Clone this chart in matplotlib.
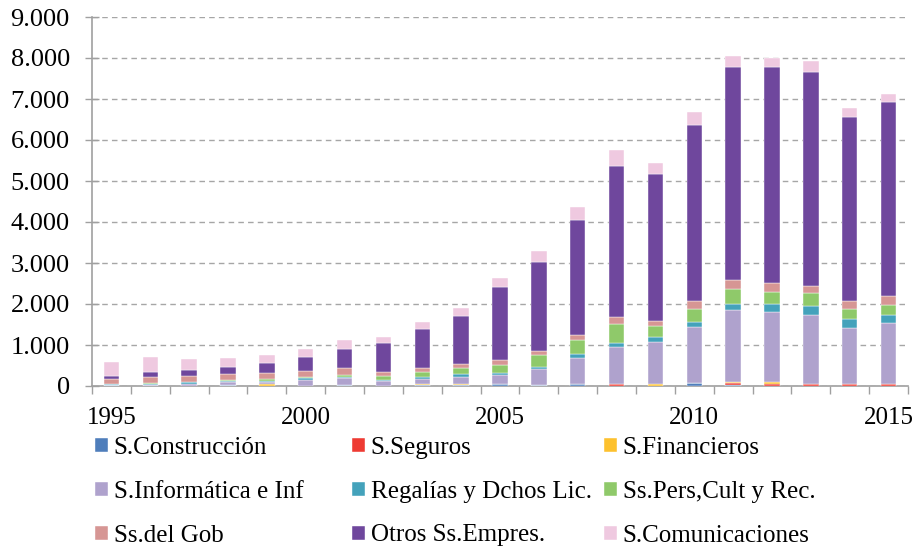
import numpy as np
import matplotlib
matplotlib.use('Agg')
from matplotlib import pyplot as plt
from matplotlib.ticker import FuncFormatter, MultipleLocator

plt.rcParams['font.family'] = ['Liberation Serif', 'DejaVu Serif']

years = list(range(1995, 2016))

construccion = [15, 10, 10, 15, 10, 10, 15, 10, 20, 20, 40, 20, 40, 10, 10, 65, 25, 10, 10, 10, 10]
seguros = [0, 0, 0, 0, 0, 0, 0, 0, 0, 0, 0, 0, 0, 40, 0, 5, 40, 50, 45, 40, 40]
financieros = [0, 0, 0, 0, 30, 0, 0, 0, 20, 30, 0, 0, 0, 0, 40, 0, 40, 35, 0, 0, 0]
informatica = [20, 20, 40, 80, 66, 140, 173, 115, 122, 180, 220, 392, 645, 890, 1012, 1362, 1754, 1713, 1688, 1354, 1476]
regalias = [20, 10, 40, 30, 15, 33, 41, 25, 57, 65, 65, 57, 98, 98, 130, 122, 147, 188, 220, 220, 196]
personales = [5, 25, 10, 10, 40, 25, 41, 100, 130, 147, 180, 278, 335, 482, 261, 326, 367, 302, 294, 245, 261]
gobierno = [115, 150, 140, 157, 165, 157, 165, 90, 98, 90, 122, 114, 114, 155, 130, 188, 212, 204, 179, 204, 212]
otros = [66, 124, 157, 182, 240, 340, 463, 702, 939, 1175, 1796, 2155, 2824, 3703, 3588, 4307, 5188, 5285, 5220, 4486, 4731]
comunicaciones = [340, 372, 273, 215, 190, 190, 215, 165, 163, 196, 212, 286, 310, 384, 269, 302, 269, 204, 269, 220, 188]

series = [
    ('S.Construcción', construccion, '#4F7EBB'),
    ('S.Seguros', seguros, '#EE3B33'),
    ('S.Financieros', financieros, '#FDC12E'),
    ('S.Informática e Inf', informatica, '#AFA2CD'),
    ('Regalías y Dchos Lic.', regalias, '#44A2BB'),
    ('Ss.Pers,Cult y Rec.', personales, '#8FC96A'),
    ('Ss.del Gob', gobierno, '#D69694'),
    ('Otros Ss.Empres.', otros, '#6F479D'),
    ('S.Comunicaciones', comunicaciones, '#EFC9E0'),
]

W, H = 915, 549
fig = plt.figure(figsize=(W / 100, H / 100), dpi=100)
ax = fig.add_axes([92 / W, 1 - 386 / H, 816 / W, 369 / H])

x = np.arange(len(years))
bottom = np.zeros(len(years))
handles = []
for name, vals, col in series:
    vals = np.array(vals, dtype=float)
    b = ax.bar(x, vals, 0.4, bottom=bottom, color=col, label=name,
               edgecolor='white', linewidth=0.3, zorder=3)
    handles.append(b)
    bottom += vals

ax.set_xlim(-0.5, len(years) - 0.5)
ax.set_ylim(0, 9000)
ax.yaxis.set_major_locator(MultipleLocator(1000))
ax.yaxis.set_major_formatter(FuncFormatter(lambda v, p: f'{int(v):,}'.replace(',', '.')))
ax.grid(axis='y', linestyle=(0, (4, 3)), color='#A6A6A6', linewidth=1.0, zorder=0)

ax.set_xticks([i for i, y in enumerate(years) if y % 5 == 0])
ax.set_xticklabels([str(y) for y in years if y % 5 == 0])
ax.set_xticks(np.arange(-0.5, len(years)), minor=True)
ax.tick_params(axis='x', which='major', length=0, pad=15, labelsize=18)
ax.tick_params(axis='x', which='minor', length=6, color='#A0A0A0', width=1)
ax.tick_params(axis='y', direction='inout', length=10, color='#A0A0A0', width=1,
               labelsize=19, pad=11)

for s in ['top', 'right']:
    ax.spines[s].set_visible(False)
for s in ['left', 'bottom']:
    ax.spines[s].set_color('#A0A0A0')
    ax.spines[s].set_linewidth(1.2)

# legend: three columns placed like the Excel one
col_x = [95, 352, 604]
for c in range(3):
    idx = [c, c + 3, c + 6]
    fig.legend([handles[i] for i in idx], [series[i][0] for i in idx],
               loc='upper left', bbox_to_anchor=(col_x[c] / W, 1 - 437 / H),
               frameon=False, fontsize=18, handlelength=0.5, handleheight=0.5,
               handletextpad=0.25, labelspacing=0.87,
               borderaxespad=0, borderpad=0)

fig.savefig('out.png', dpi=100)
